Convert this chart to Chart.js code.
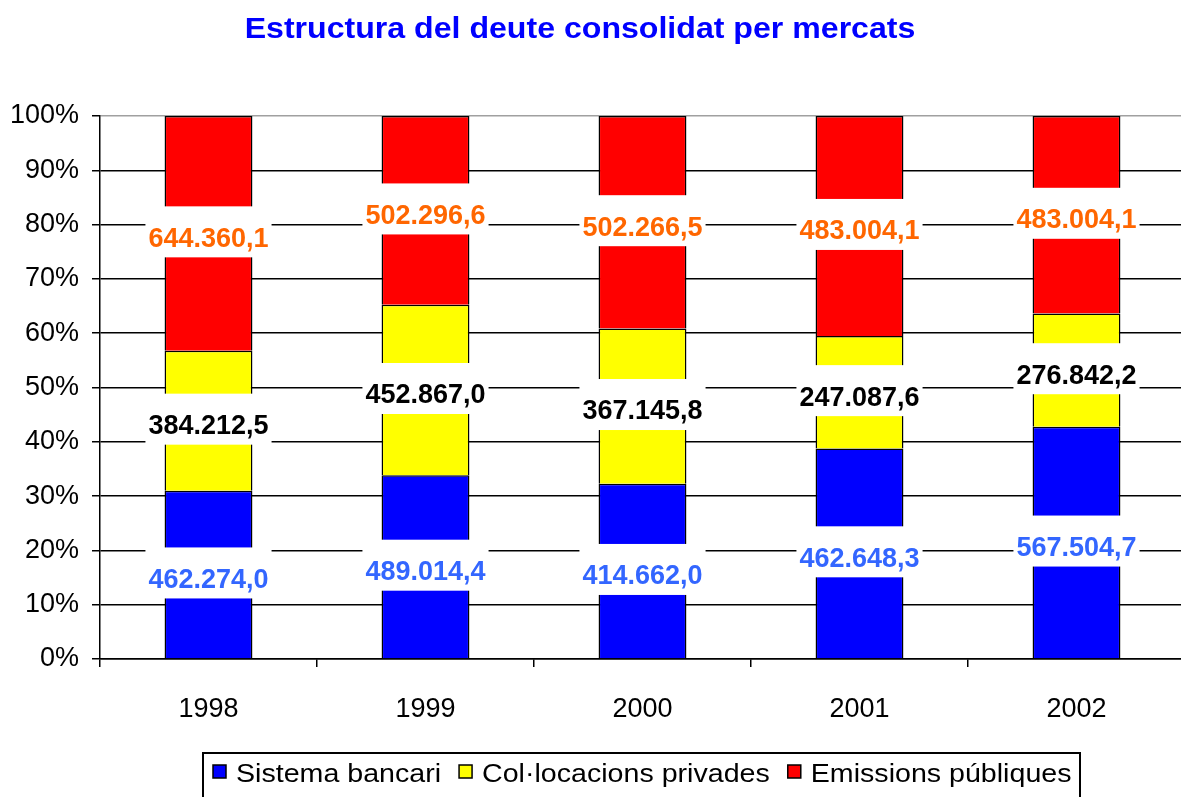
<!DOCTYPE html>
<html>
<head>
<meta charset="utf-8">
<title>Estructura del deute consolidat per mercats</title>
<script src="https://cdn.jsdelivr.net/npm/chart.js@4.4.1/dist/chart.umd.min.js"></script>
<style>
    html, body { margin: 0; padding: 0; background: #fff; overflow: hidden; }
    #wrap { position: relative; width: 1190px; height: 797px; }
</style>
</head>
<body>
<div id="wrap"><canvas id="chart" width="1190" height="797"></canvas></div>
<script>
// Chart data (values in the labels, in the original units)
const years = ['1998', '1999', '2000', '2001', '2002'];
const sistemaBancari = [462274.0, 489014.4, 414662.0, 462648.3, 567504.7];
const colocacionsPrivades = [384212.5, 452867.0, 367145.8, 247087.6, 276842.2];
const emissionsPubliques = [644360.1, 502296.6, 502266.5, 483004.1, 483004.1];
const seriesNames = ['Sistema bancari', 'Col·locacions privades', 'Emissions públiques'];
const yTickStep = 10;

const chartTitle = 'Estructura del deute consolidat per mercats';

// totals per year, for the 100% stacking
const totals = years.map((y, i) => sistemaBancari[i] + colocacionsPrivades[i] + emissionsPubliques[i]);
const toPct = arr => arr.map((v, i) => v / totals[i] * 100);

// 462274.0 -> "462.274,0"
function formatCa(v) {
    const parts = v.toFixed(1).split('.');
    const intPart = parts[0].replace(/\B(?=(\d{3})+(?!\d))/g, '.');
    return intPart + ',' + parts[1];
}

const rawSeries = [sistemaBancari, colocacionsPrivades, emissionsPubliques];
const labelColors = ['#3366FF', '#000000', '#FF6600'];

// Draws title, value labels (with white boxes) and the framed legend
const decorPlugin = {
    id: 'decor',
    afterDatasetsDraw(chart) {
        const ctx = chart.ctx;
        ctx.save();
        ctx.font = 'bold 27px Arial, "Liberation Sans", sans-serif';
        ctx.textBaseline = 'middle';
        ctx.textAlign = 'center';
        chart.data.datasets.forEach((ds, di) => {
            const meta = chart.getDatasetMeta(di);
            meta.data.forEach((bar, j) => {
                const text = formatCa(rawSeries[di][j]);
                const cy = (bar.y + bar.base) / 2 + 5;
                const w = ctx.measureText(text).width;
                ctx.fillStyle = '#fff';
                ctx.fillRect(bar.x - w / 2 - 3, cy - 32, w + 6, 51);
                ctx.fillStyle = labelColors[di];
                ctx.fillText(text, bar.x, cy + 1);
            });
        });
        ctx.restore();
    },
    afterDraw(chart) {
        const ctx = chart.ctx;
        ctx.save();

        // title
        ctx.fillStyle = '#0000FF';
        ctx.font = 'bold 30px Arial, "Liberation Sans", sans-serif';
        ctx.textAlign = 'center';
        ctx.textBaseline = 'alphabetic';
        ctx.translate(580, 38);
        ctx.scale(1.07, 1);
        ctx.fillText(chartTitle, 0, 0);
        ctx.restore();

        // legend
        ctx.save();
        ctx.strokeStyle = '#000';
        ctx.lineWidth = 2;
        ctx.strokeRect(203, 753, 877, 60);
        ctx.font = '26px Arial, "Liberation Sans", sans-serif';
        ctx.textBaseline = 'alphabetic';
        ctx.textAlign = 'left';
        let x = 213;
        chart.data.datasets.forEach(ds => {
            ctx.fillStyle = ds.backgroundColor;
            ctx.fillRect(x, 765, 13, 13);
            ctx.lineWidth = 1.5;
            ctx.strokeRect(x, 765, 13, 13);
            x += 23;
            ctx.fillStyle = '#000';
            const w = ctx.measureText(ds.label).width * 1.1;
            ctx.save();
            ctx.translate(x, 782);
            ctx.scale(1.1, 1);
            ctx.fillText(ds.label, 0, 0);
            ctx.restore();
            x += w + 18;
        });
        ctx.restore();
    }
};

const ctx = document.getElementById('chart').getContext('2d');
new Chart(ctx, {
    type: 'bar',
    data: {
        labels: years,
        datasets: [
            { label: seriesNames[0], data: toPct(sistemaBancari), backgroundColor: '#0000FF' },
            { label: seriesNames[1], data: toPct(colocacionsPrivades), backgroundColor: '#FFFF00' },
            { label: seriesNames[2], data: toPct(emissionsPubliques), backgroundColor: '#FF0000' }
        ].map(ds => Object.assign(ds, {
            borderColor: '#000',
            borderWidth: 1.5,
            categoryPercentage: 1,
            barPercentage: 0.405
        }))
    },
    options: {
        responsive: false,
        animation: false,
        layout: { padding: { top: 116, right: 5, bottom: 78, left: 0 } },
        plugins: {
            legend: { display: false },
            title: { display: false },
            tooltip: { enabled: false }
        },
        scales: {
            x: {
                stacked: true,
                afterFit: scale => { scale.height = 60; },
                border: { color: '#000', width: 1.5 },
                grid: {
                    offset: true,
                    drawOnChartArea: false,
                    drawTicks: true,
                    tickLength: 8,
                    tickColor: '#000',
                    lineWidth: 1.5
                },
                ticks: {
                    color: '#000',
                    padding: 26,
                    font: { family: 'Arial, "Liberation Sans", sans-serif', size: 27 }
                }
            },
            y: {
                stacked: true,
                min: 0,
                max: 100,
                afterFit: scale => { scale.width = 100; },
                border: { color: '#000', width: 1.5 },
                grid: {
                    color: c => (c.tick && c.tick.value === 100 ? '#a0a0a0' : '#000'),
                    tickColor: '#000',
                    lineWidth: 1.5,
                    tickLength: 8
                },
                ticks: {
                    stepSize: yTickStep,
                    color: '#000',
                    padding: 13,
                    font: { family: 'Arial, "Liberation Sans", sans-serif', size: 27 },
                    callback: v => v + '%'
                }
            }
        }
    },
    plugins: [decorPlugin]
});
</script>
</body>
</html>
